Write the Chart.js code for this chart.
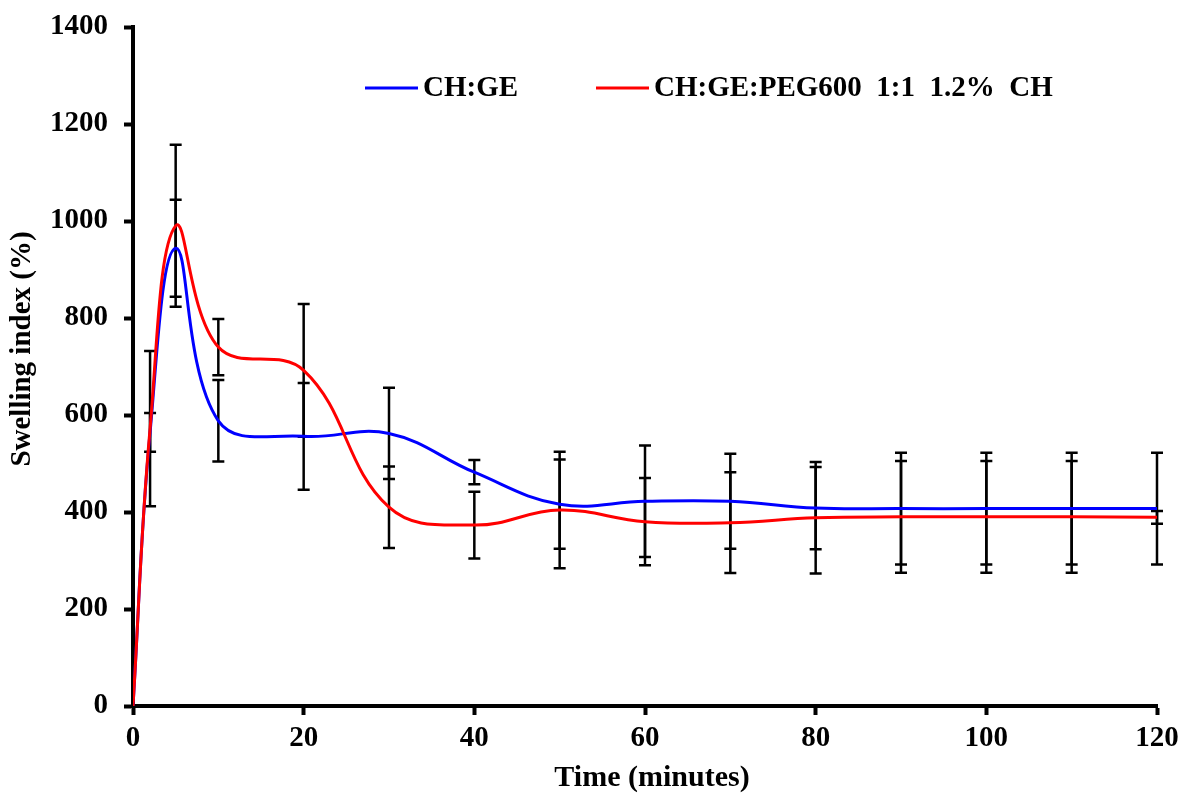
<!DOCTYPE html>
<html>
<head>
<meta charset="utf-8">
<title>Swelling index</title>
<script src="https://cdn.jsdelivr.net/npm/chart.js@4.4.1/dist/chart.umd.min.js"></script>
<style>
  html, body { margin: 0; padding: 0; background: #fff; }
  #wrap { width: 1182px; height: 798px; }
</style>
</head>
<body>
<div id="wrap"><canvas id="swelling" width="1182" height="798"></canvas></div>
<script>
// sampling times (minutes)
const timeMin = [0, 2, 5, 10, 20, 30, 40, 50, 60, 70, 80, 90, 100, 110, 120];

// CH:GE film
const chGe    = [0, 564, 944, 588, 556, 562, 482, 416, 422, 422, 408, 407, 407, 407, 407];
const chGeSd  = [0, 40, 100, 84, 110, 94, 25, 92, 115, 98, 85, 115, 115, 115, 115];

// CH:GE:PEG600 film
const chGePeg   = [0, 572, 990, 740, 692, 410, 373, 404, 380, 378, 388, 390, 390, 390, 389];
const chGePegSd = [0, 160, 167, 58, 137, 84, 69, 120, 90, 104, 115, 115, 115, 115, 13];

const xTicks = [0, 20, 40, 60, 80, 100, 120];
const yTicks = [0, 200, 400, 600, 800, 1000, 1200, 1400];

const xTitle = 'Time (minutes)';
const yTitle = 'Swelling index (%)';

const FONT = "'Times New Roman', 'Liberation Serif', serif";

const pts = vals => vals.map((v, i) => ({ x: timeMin[i], y: v }));

// vertical SD bars with caps, drawn under the curves
const errorBars = {
  id: 'errorBars',
  beforeDatasetsDraw(chart) {
    const { ctx, scales: { x, y } } = chart;
    ctx.save();
    ctx.strokeStyle = '#000';
    ctx.lineWidth = 2.5;
    chart.data.datasets.forEach(ds => {
      ds.sd.forEach((e, i) => {
        if (!e) return;
        const px = x.getPixelForValue(timeMin[i]);
        const hi = y.getPixelForValue(ds.data[i].y + e);
        const lo = y.getPixelForValue(ds.data[i].y - e);
        ctx.beginPath();
        ctx.moveTo(px, hi); ctx.lineTo(px, lo);
        ctx.moveTo(px - 6, hi); ctx.lineTo(px + 6, hi);
        ctx.moveTo(px - 6, lo); ctx.lineTo(px + 6, lo);
        ctx.stroke();
      });
    });
    ctx.restore();
  }
};

// line-sample legend inside the plot + axis titles
const lineLegend = {
  id: 'lineLegend',
  afterDraw(chart) {
    const { ctx } = chart;
    const starts = [365, 596];
    ctx.save();
    ctx.font = 'bold 29px ' + FONT;
    ctx.textBaseline = 'middle';
    ctx.fillStyle = '#000';
    chart.data.datasets.forEach((ds, i) => {
      const x0 = starts[i], yMid = 88;
      ctx.strokeStyle = ds.borderColor;
      ctx.lineWidth = 3;
      ctx.beginPath();
      ctx.moveTo(x0, yMid); ctx.lineTo(x0 + 53, yMid);
      ctx.stroke();
      ctx.fillText(ds.label, x0 + 58, yMid + 1);
    });

    ctx.textAlign = 'center';
    ctx.font = 'bold 30px ' + FONT;
    ctx.fillText(xTitle, 652, 778);

    ctx.font = 'bold 29px ' + FONT;
    ctx.translate(23, 349);
    ctx.rotate(-Math.PI / 2);
    ctx.fillText(yTitle, 0, 0);
    ctx.restore();
  }
};

const axisCommon = {
  border: { display: true, color: '#000', width: 4 },
  grid: { drawOnChartArea: false, drawTicks: true, tickLength: 9, tickWidth: 4, tickColor: '#000' },
};

const tickFont = { family: FONT, size: 29, weight: 'bold' };

new Chart(document.getElementById('swelling'), {
  type: 'line',
  data: {
    datasets: [
      {
        label: 'CH:GE',
        data: pts(chGe),
        sd: chGeSd,
        borderColor: '#0000ff',
        borderWidth: 3,
        pointRadius: 0,
        tension: 0.4,
        order: 1
      },
      {
        label: 'CH:GE:PEG600  1:1  1.2%  CH',
        data: pts(chGePeg),
        sd: chGePegSd,
        borderColor: '#ff0000',
        borderWidth: 3,
        pointRadius: 0,
        tension: 0.4,
        order: 0
      }
    ]
  },
  options: {
    responsive: false,
    animation: false,
    devicePixelRatio: 1,
    layout: { padding: { top: 27, right: 25, left: 0, bottom: 0 } },
    plugins: {
      legend: { display: false },
      tooltip: { enabled: false }
    },
    scales: {
      x: {
        type: 'linear',
        min: 0, max: 120,
        ...axisCommon,
        afterBuildTicks: s => { s.ticks = xTicks.map(v => ({ value: v })); },
        afterFit: s => { s.height = 92; s.paddingLeft = 0; s.paddingRight = 0; },
        ticks: { color: '#000', padding: 6, font: tickFont, callback: v => String(v) }
      },
      y: {
        type: 'linear',
        min: 0, max: 1400,
        ...axisCommon,
        afterBuildTicks: s => { s.ticks = yTicks.map(v => ({ value: v })); },
        afterFit: s => { s.width = 133; s.paddingTop = 0; s.paddingBottom = 0; },
        ticks: { color: '#000', padding: 16, font: tickFont, callback: v => String(v) }
      }
    }
  },
  plugins: [errorBars, lineLegend]
});
</script>
</body>
</html>
